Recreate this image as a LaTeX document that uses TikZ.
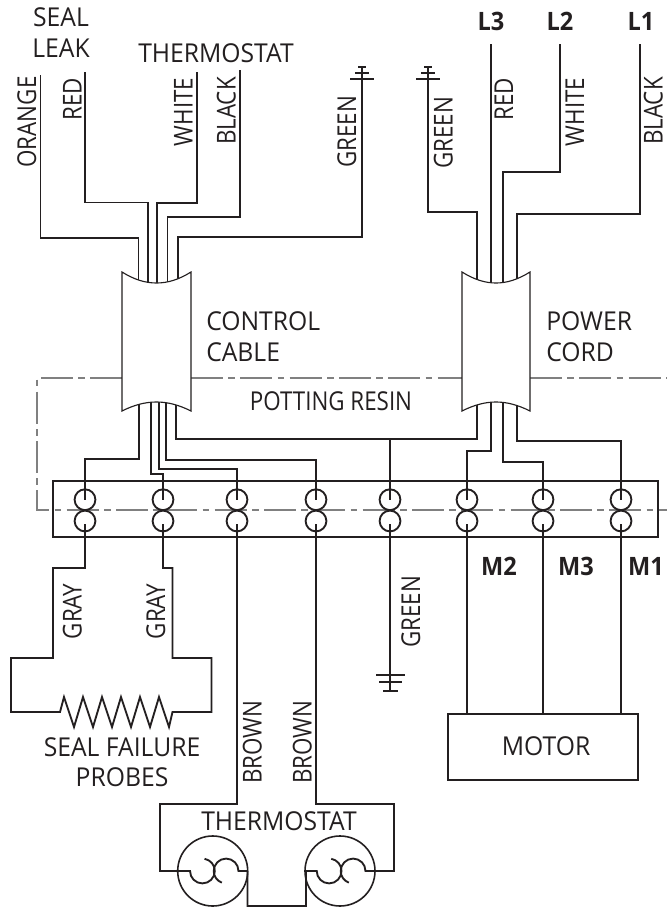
\documentclass[tikz,border=0pt]{standalone}
\usepackage{fontspec}
\setmainfont[FakeStretch=0.95]{Open Sans}
\newfontfamily\wirefont[FakeStretch=0.86]{Open Sans}
\newfontfamily\semifont[FakeStretch=0.93]{Open Sans Bold}
\definecolor{ink}{HTML}{231F20}
\definecolor{pot}{HTML}{808080}
\tikzset{
  wire/.style={draw=ink,line width=1.4pt,line join=miter},
  thin wire/.style={draw=ink,line width=1.15pt},
  cablebody/.style={draw=ink,fill=white,line width=0.85pt},
  potline/.style={draw=pot,line width=1.3pt,dash pattern=on 24pt off 4pt on 5pt off 4pt},
  lbl/.style={text=ink,inner sep=0pt,font=\fontsize{19.5pt}{22pt}\selectfont,text height=13.6pt,text depth=0pt},
  lbll/.style={lbl,anchor=west},
  wirelbl/.style={lbl,rotate=90,font=\wirefont\fontsize{19.5pt}{22pt}\selectfont},
  narrow lbl/.style={lbl,font=\wirefont\fontsize{19.5pt}{22pt}\selectfont},
  bold lbl/.style={lbl,font=\semifont\fontsize{19pt}{22pt}\selectfont},
  term/.style={circle,draw=ink,line width=1.4pt,minimum size=15.6pt,inner sep=0pt},
  sensor/.style={circle,draw=ink,line width=1.2pt,minimum size=52.5pt,inner sep=0pt},
  box/.style={draw=ink,line width=1.3pt,inner sep=0pt}
}
\begin{document}
\begin{tikzpicture}[x=0.75pt,y=-0.75pt]
\useasboundingbox (0,0) rectangle (667,907);

% potting resin outline
\draw[potline] (122,378) -- (37,378) -- (37,510) -- (667,510);
\draw[potline] (191,378) -- (462,378);
\draw[potline] (530,378) -- (667,378);

% free wire ends
\coordinate (oT) at (40.5,75);
\coordinate (rT) at (85,72);
\coordinate (wT) at (197,72);
\coordinate (bT) at (240,70);
\coordinate (gT) at (362,67);
\coordinate (pgT) at (428,67);
\coordinate (prT) at (491,44);
\coordinate (pwT) at (560,44);
\coordinate (pbT) at (640,44);
\coordinate (oC) at (138.5,300);
\coordinate (rC) at (148,300);
\coordinate (wC) at (157,300);
\coordinate (bC) at (167.5,300);
\coordinate (gC) at (178,300);
\coordinate (pgC) at (477,300);
\coordinate (prC) at (491,300);
\coordinate (pwC) at (503,300);
\coordinate (pbC) at (517,300);
\coordinate (c1) at (139,395);
\coordinate (c2) at (151,395);
\coordinate (c3) at (159,395);
\coordinate (c4) at (166,395);
\coordinate (c5) at (176,395);
\coordinate (p1) at (477,395);
\coordinate (p2) at (491,395);
\coordinate (p3) at (503,395);
\coordinate (p4) at (517,395);
\coordinate (gndU) at (390,691);
\coordinate (gndJ) at (390,439);

% terminal block
\node[box,minimum width=453.75pt,minimum height=42pt] (block) at (355.5,509) {};
\foreach \n/\x in {1/85,2/163,3/237,4/316,5/390,6/467,7/543,8/621}{
  \node[term] (u\n) at (\x,499.7) {};
  \node[term] (l\n) at (\x,521) {};
}

% wires above the cables
\draw[wire] (oT) -- (40.5,238) -- (138.5,238) -- (oC);
\draw[wire] (rT) -- (85,202.5) -- (148,202.5) -- (rC);
\draw[wire] (wT) -- (197,203) -- (157,203) -- (wC);
\draw[wire] (bT) -- (240,217) -- (167.5,217) -- (bC);
\draw[wire] (gT) -- (362,237) -- (178,237) -- (gC);
\draw[wire] (pgT) -- (428,212) -- (477,212) -- (pgC);
\draw[wire] (prT) -- (prC);
\draw[wire] (pwT) -- (560,172) -- (503,172) -- (pwC);
\draw[wire] (pbT) -- (640,214) -- (517,214) -- (pbC);

% top earth symbols
\draw[thin wire] (350,79) -- (374,79) (355,73) -- (369,73) (358,67) -- (366,67);
\draw[thin wire] (416,79) -- (440,79) (421,73) -- (435,73) (424,67) -- (432,67);

% wires below the cables
\draw[wire] (c1) -- (139,459) -- (85,459) -- (u1.center);
\draw[wire] (c2) -- (151,474) -- (163,474) -- (u2.center);
\draw[wire] (c3) -- (159,469) -- (237,469) -- (u3.center);
\draw[wire] (c4) -- (166,460) -- (316,460) -- (u4.center);
\draw[wire] (c5) -- (176,439) -- (477,439) -- (p1);
\draw[wire] (gndJ) -- (u5.center);
\draw[wire] (p2) -- (491,451) -- (467,451) -- (u6.center);
\draw[wire] (p3) -- (503,462) -- (543,462) -- (u7.center);
\draw[wire] (p4) -- (517,441) -- (621,441) -- (u8.center);

% cables
\path[cablebody] (122,272) .. controls (134,279.5) and (145,283) .. (156.5,283)
  .. controls (168,283) and (179,279.5) .. (191,272) -- (191,411)
  .. controls (179,405) and (168,402) .. (156.5,402)
  .. controls (145,402) and (134,405) .. (122,411) -- cycle;
\path[cablebody] (462,272) .. controls (474,279.5) and (485,283) .. (496,283)
  .. controls (507,283) and (518,279.5) .. (530,272) -- (530,411)
  .. controls (518,405) and (507,402) .. (496,402)
  .. controls (485,402) and (474,405) .. (462,411) -- cycle;

% motor
\node[box,minimum width=142.5pt,minimum height=49.5pt] (motor) at (543,747) {};
\draw[wire] ([yshift=-2.25pt]l6.center) -- (motor.north -| l6);
\draw[wire] ([yshift=-2.25pt]l7.center) -- (motor.north -| l7);
\draw[wire] ([yshift=-2.25pt]l8.center) -- (motor.north -| l8);

% lower earth
\draw[wire] ([yshift=-2.25pt]l5.center) -- (gndU);
\draw[thin wire] (376,675) -- (405,675) (379,682) -- (402,682) (383,691) -- (398,691);

% seal failure probes
\draw[wire] ([yshift=-2.25pt]l1.center) -- (85,568) -- (53,568) -- (53,658) -- (11,658) -- (11,712) -- (60,712)
  -- (64,697) -- (74,727) -- (83,697) -- (93,727) -- (102,697) -- (112,727) -- (121,697)
  -- (131,727) -- (140,697) -- (150,727) -- (159,697) -- (169,727) -- (172.5,712)
  -- (211.5,712) -- (211.5,658) -- (172.5,658) -- (172.5,568) -- (163,568) -- ([yshift=-2.25pt]l2.center);

% thermostat
\node[sensor] (th1) at (212.7,871) {};
\node[sensor] (th2) at (340,871) {};
\draw[wire] ([yshift=-2.25pt]l3.center) -- (237,804) -- (160,804) -- (160,871) -- (190,871)
  arc[start angle=180,end angle=440,radius=9.3pt];
\draw[wire] (247.5,871) -- (238.5,871) arc[start angle=0,end angle=250,radius=9.3pt];
\draw[wire] (247.5,871) -- (247.5,906) -- (306,906) -- (306,871) -- (316.7,871)
  arc[start angle=180,end angle=440,radius=9.3pt];
\draw[wire] ([yshift=-2.25pt]l4.center) -- (316,804) -- (394,804) -- (394,871) -- (365.5,871)
  arc[start angle=0,end angle=250,radius=9.3pt];

% labels
\node[lbl] (tSeal) at (61,17) {SEAL};
\node[lbl] (tLeak) at (61,48) {LEAK};
\node[lbl] (tTherm) at (216,53) {THERMOSTAT};
\node[bold lbl] (tL3) at (491,21.5) {L3};
\node[bold lbl] (tL2) at (560,21.5) {L2};
\node[bold lbl] (tL1) at (641,21.5) {L1};
\node[wirelbl] (lOrange) at (27,122) {ORANGE};
\node[wirelbl] (lRed) at (72.5,99) {RED};
\node[wirelbl] (lWhite) at (183.5,112) {WHITE};
\node[wirelbl] (lBlack) at (226.5,111) {BLACK};
\node[wirelbl] (lGreenA) at (347,132) {GREEN};
\node[wirelbl] (lGreenB) at (443.5,133) {GREEN};
\node[wirelbl] (lRedB) at (504,99) {RED};
\node[wirelbl] (lWhiteB) at (575,112) {WHITE};
\node[wirelbl] (lBlackB) at (653.5,111) {BLACK};
\node[lbll] (tControl) at (206,321) {CONTROL};
\node[lbll] (tCable) at (206,352) {CABLE};
\node[lbll] (tPower) at (546,321) {POWER};
\node[lbll] (tCord) at (546,352) {CORD};
\node[narrow lbl] (tPot) at (331,401) {POTTING RESIN};
\node[bold lbl] (tM2) at (499,566.5) {M2};
\node[bold lbl] (tM3) at (576,566.5) {M3};
\node[bold lbl] (tM1) at (646,566.5) {M1};
\node[wirelbl] (lGrayA) at (72.5,611.5) {GRAY};
\node[wirelbl] (lGrayB) at (156,611.5) {GRAY};
\node[wirelbl] (lGreenC) at (411,612) {GREEN};
\node[wirelbl] (lBrownA) at (252.5,742) {BROWN};
\node[wirelbl] (lBrownB) at (302.5,742) {BROWN};
\node[lbl] (tMotor) at (546,746) {MOTOR};
\node[lbl] (tFail) at (122,747) {SEAL FAILURE};
\node[lbl] (tProbes) at (122,777) {PROBES};
\node[lbl] (tTherm2) at (279,821) {THERMOSTAT};
\end{tikzpicture}
\end{document}
